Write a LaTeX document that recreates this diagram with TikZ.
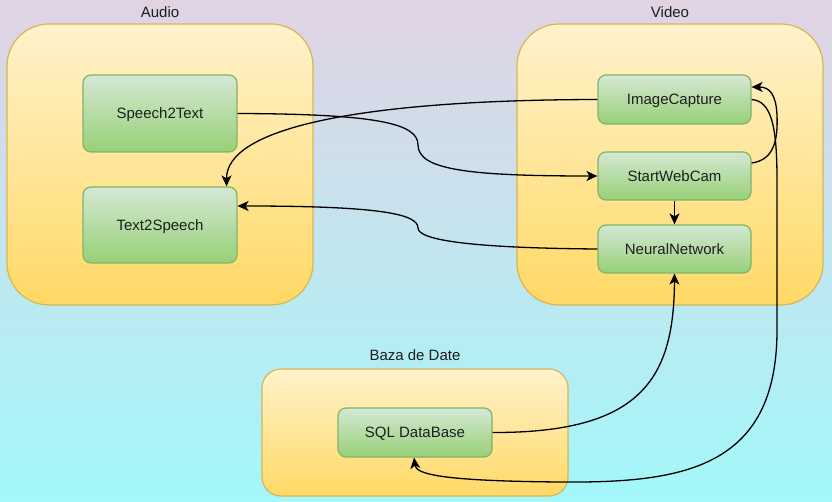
\documentclass[tikz,border=0pt]{standalone}
\usepackage{fontspec}
\setmainfont{Liberation Sans}
\usetikzlibrary{arrows.meta}
\definecolor{bgtop}{RGB}{225,211,228}
\definecolor{bgbot}{RGB}{162,248,250}
\definecolor{ytop}{HTML}{FFF2CC}
\definecolor{ybot}{HTML}{FFD966}
\definecolor{ystroke}{HTML}{D6B656}
\definecolor{gtop}{HTML}{D5E8D4}
\definecolor{gbot}{HTML}{97D077}
\definecolor{gstroke}{HTML}{82B366}
\definecolor{txt}{RGB}{30,30,30}
\tikzset{
  container/.style={draw=ystroke, line width=1.2pt, top color=ytop, bottom color=ybot, inner sep=0pt},
  proc/.style={draw=gstroke, line width=1.2pt, top color=gtop, bottom color=gbot, rounded corners=8pt,
    minimum width=154pt, inner sep=0pt, text=txt, font=\fontsize{15}{18}\selectfont,
    text height=11pt, text depth=0.5pt},
  grouplabel/.style={text=txt, font=\fontsize{15}{18}\selectfont, inner sep=0pt},
  conn/.style={draw=black, line width=1.3pt, -{Stealth[length=11pt,width=10pt,inset=3pt]}}
}
\begin{document}
\begin{tikzpicture}[x=1pt,y=-1pt]
\useasboundingbox (0,0) rectangle (832,502);
\shade[top color=bgtop, bottom color=bgbot] (0,0) rectangle (832,502);
% containers
\node[container, rounded corners=42pt, minimum width=306pt, minimum height=281pt] (audio) at (160,164.5) {};
\node[container, rounded corners=42pt, minimum width=306pt, minimum height=281pt] (video) at (670,164.5) {};
\node[container, rounded corners=19pt, minimum width=306pt, minimum height=127pt] (baza) at (415,432.5) {};
\node[grouplabel] (audiol) at (160,12) {Audio};
\node[grouplabel] (videol) at (670,12) {Video};
\node[grouplabel] (bazal) at (415,355) {Baza de Date};
% processes
\node[proc, minimum height=77pt] (s2t) at (160,113.5) {Speech2Text};
\node[proc, minimum height=76pt] (t2s) at (160,225) {Text2Speech};
\node[proc, minimum width=153pt, minimum height=49pt] (ic) at (674.5,99.5) {ImageCapture};
\node[proc, minimum width=153pt, minimum height=48pt] (swc) at (674.5,176) {StartWebCam};
\node[proc, minimum width=153pt, minimum height=48pt] (nn) at (674.5,249) {NeuralNetwork};
\node[proc, minimum height=49pt] (sql) at (415,432.5) {SQL DataBase};
% connectors
\draw[conn] (s2t.east) .. controls (380,114) and (418,124) .. (418,145)
  .. controls (418,170) and (470,176) .. (swc.west);
\draw[conn] (nn.west) .. controls (470,248) and (418,240) .. (418,228)
  .. controls (418,214) and (380,206) .. ([yshift=19pt]t2s.east);
\draw[conn] (ic.west) .. controls (350,100) and (226,130) .. ([xshift=-11pt]t2s.north east);
\draw[conn] ([yshift=13pt]swc.east) .. controls (774,160) and (778,140) .. (777,115)
  .. controls (776,95) and (770,87) .. ([yshift=12.5pt]ic.east);
\draw[conn] (swc.south) -- (nn.north);
\draw[conn] (sql.east) .. controls (640,433) and (674,380) .. (nn.south);
\draw[conn] (ic.east) .. controls (771,101) and (777,125) .. (777,180) -- (777,330)
  .. controls (777,470) and (680,483) .. (560,482)
  .. controls (440,481) and (416,474) .. ([xshift=-1pt]sql.south);
\end{tikzpicture}
\end{document}
